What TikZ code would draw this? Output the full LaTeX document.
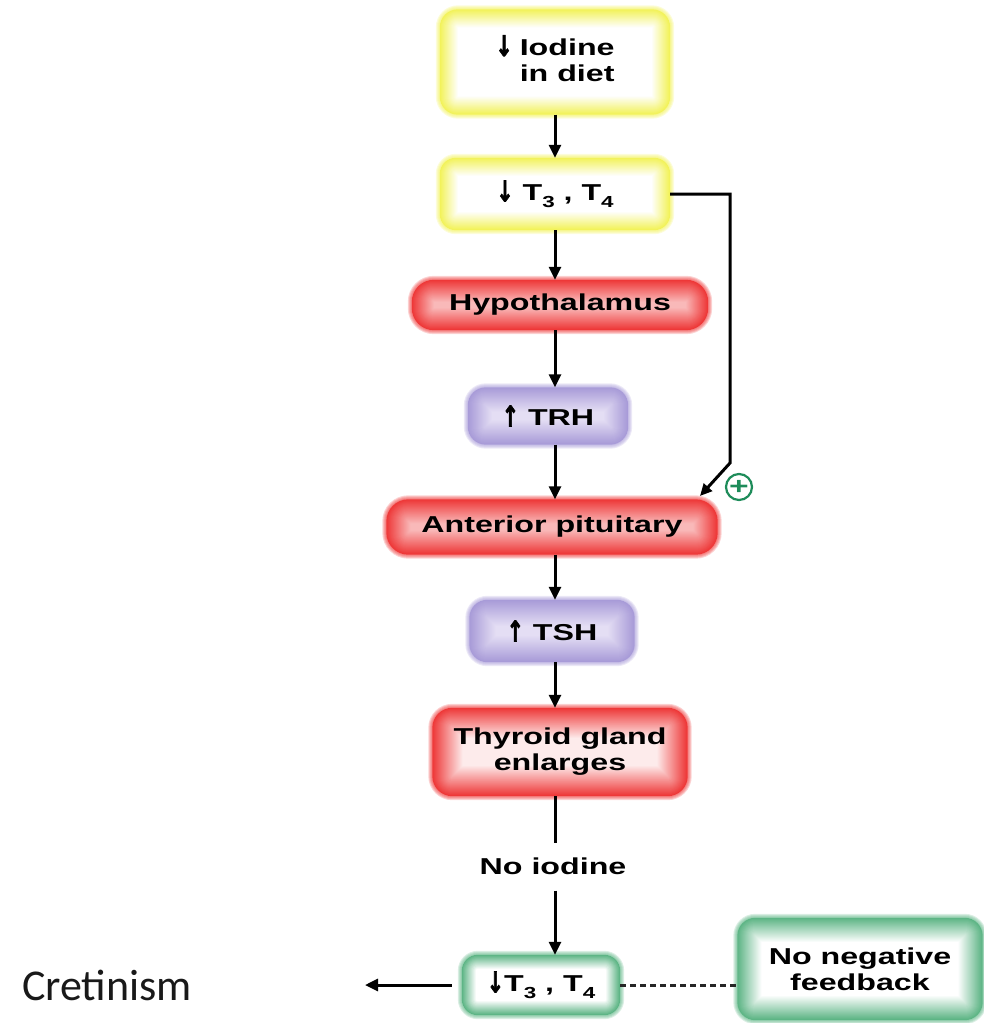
\documentclass[tikz,border=0pt]{standalone}
\usepackage{fontspec}
\setmainfont{Liberation Sans}
\newfontfamily\bx{Liberation Sans Bold}[FakeStretch=1.4]
\newfontfamily\arfont{DejaVu Sans Bold}[FakeBold=2.5]
\newfontfamily\crfont{Carlito}
\usetikzlibrary{arrows.meta,calc,backgrounds}
\definecolor{yel}{HTML}{F2F25A}
\definecolor{rd}{HTML}{EE3838}
\colorlet{rdc}{rd!35!white}
\colorlet{rdw}{rd!10!white}
\definecolor{pur}{HTML}{A89BD8}
\definecolor{purc}{HTML}{E4DEF4}
\definecolor{grn}{HTML}{5DB585}
\definecolor{pgrn}{HTML}{1E8C5A}
\newcommand\lowr[1]{\raisebox{-0.3em}{\fontsize{16}{16}\selectfont #1}}
\newcommand\dn{\raisebox{-1pt}{\scalebox{0.9}[1.25]{\arfont ↓}}}
\newcommand\up{\raisebox{-1pt}{\scalebox{0.9}[1.25]{\arfont ↑}}}
% #1 node, #2 edge colour, #3 centre colour, #4 steps, #5 step (pt), #6 corner radius (pt)
\newcommand\glowbox[6]{%
 \begin{pgfonlayer}{background}
 \foreach \i in {-4,...,#4}{%
   \pgfmathsetmacro\mix{100-100*max(\i,0)/#4}%
   \pgfmathsetmacro\op{ifthenelse(\i<0,0.22,1)}%
   \pgfmathsetmacro\rad{max(#6-\i*#5,0.5)}%
   \pgfmathsetmacro\off{\i*#5}%
   \pgfmathsetmacro\offn{-\i*#5}%
   \fill[#2!\mix!#3, fill opacity=\op, rounded corners=\rad pt]
     ($(#1.north west)+(\off pt,\offn pt)$) rectangle ($(#1.south east)+(\offn pt,\off pt)$);
 }%
 \end{pgfonlayer}}
\begin{document}
\begin{tikzpicture}[x=1pt,y=-1pt,
  txt/.style={font=\bx\fontsize{23}{26}\selectfont, text=black},
  box/.style={txt, rectangle, inner sep=0pt, align=center},
  arr/.style={line width=3pt, -{Triangle[length=13pt,width=12pt]}},
  ln/.style={line width=3pt}]
\useasboundingbox (0,0) rectangle (984,1023);

\node[box, minimum width=230, minimum height=105] (iod) at (555,62)
  {\begin{tabular}{@{}r@{\hspace{7pt}}l@{}}\dn&Iodine\\&in diet\end{tabular}};
\node[box, minimum width=230, minimum height=72] (t3a) at (555,194) {\dn\ T\lowr{3} , T\lowr{4}};
\node[box, minimum width=296, minimum height=50] (hyp) at (560,305) {Hypothalamus};
\node[box, minimum width=160, minimum height=57] (trh) at (548,416) {\up\ TRH};
\node[box, minimum width=331, minimum height=55] (ap) at (552,527) {Anterior pituitary};
\node[box, minimum width=165, minimum height=62] (tsh) at (552,631) {\up\ TSH};
\node[box, minimum width=255, minimum height=88] (thy) at (560,752) {Thyroid gland\\enlarges};
\node[box] (noi) at (553,866) {No iodine};
\node[box, minimum width=158, minimum height=60] (t3b) at (541,985) {\dn T\lowr{3} , T\lowr{4}};
\node[box, minimum width=245, minimum height=102] (nnf) at (860,969) {No negative\\feedback};
\node[font=\crfont\fontsize{44}{44}\selectfont, text=black!90, inner sep=0pt] (cr) at (107,985) {Cretinism};

\glowbox{iod}{yel}{white}{18}{1}{18}
\glowbox{t3a}{yel}{white}{18}{1}{16}
\glowbox{hyp}{rd}{rdc}{22}{1}{22}
\glowbox{trh}{pur}{purc}{24}{1}{18}
\glowbox{ap}{rd}{rdc}{24}{1}{22}
\glowbox{tsh}{pur}{purc}{26}{1}{18}
\glowbox{thy}{rd}{rdw}{30}{1}{20}
\glowbox{t3b}{grn}{white}{14}{1}{16}
\glowbox{nnf}{grn}{white}{24}{1}{18}

\draw[arr] (iod) -- (t3a);
\draw[arr] (t3a) -- (t3a.south |- hyp.north);
\draw[arr] (t3a.south |- hyp.south) -- (t3a.south |- trh.north);
\draw[arr] (t3a.south |- trh.south) -- (t3a.south |- ap.north);
\draw[arr] (t3a.south |- ap.south) -- (t3a.south |- tsh.north);
\draw[arr] (t3a.south |- tsh.south) -- (t3a.south |- thy.north);
\draw[ln] (t3a.south |- thy.south) -- ([yshift=14pt]t3a.south |- noi.north);
\draw[arr] ([yshift=-16pt]t3a.south |- noi.south) -- (t3a.south |- t3b.north);

\coordinate (crend) at (365,985);
\draw[arr] ([xshift=-10pt]t3b.west) -- (crend);
\draw[line width=3pt, dash pattern=on 6pt off 4pt, black!85] (t3b.east) -- (t3b.east -| nnf.west);

\coordinate (fbc) at (730,463);
\coordinate (fbend) at (700,496);
\draw[line width=3pt, -{Triangle[length=12pt,width=11pt]}] (t3a.east) -| (fbc) -- (fbend);
\node[circle, draw=pgrn, line width=2.2pt, minimum size=26pt, inner sep=0pt, text=pgrn,
  font=\bx\fontsize{24}{24}\selectfont] (pl) at (739,487) {+};
\end{tikzpicture}
\end{document}
